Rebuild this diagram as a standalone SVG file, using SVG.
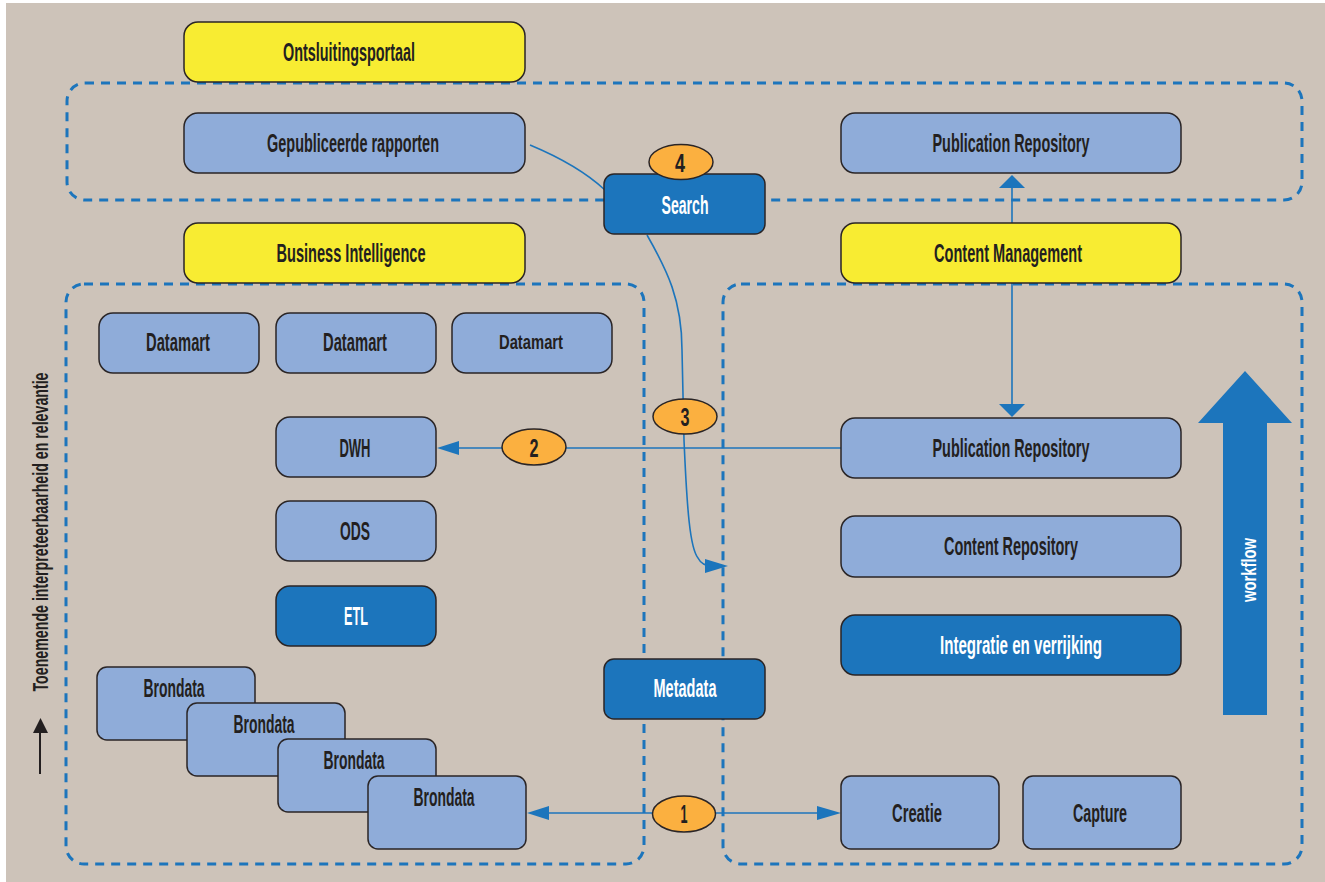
<svg xmlns="http://www.w3.org/2000/svg" width="1325" height="882" viewBox="0 0 1325 882">
<defs>
<style>
.bg{fill:#CDC3B9}
.lb{fill:#8FACD9;stroke:#2A2526;stroke-width:1.5}
.db{fill:#1C75BC;stroke:#2A2526;stroke-width:1.5}
.yb{fill:#F8EC32;stroke:#2A2526;stroke-width:1.5}
.ov{fill:#FBB040;stroke:#2A2526;stroke-width:1.5}
.cont{fill:none;stroke:#1C75BC;stroke-width:3;stroke-dasharray:9 7}
.ln{fill:none;stroke:#1C75BC;stroke-width:1.6}
.ah{fill:#1C75BC}
.t{font-family:"Liberation Sans","DejaVu Sans",sans-serif;font-weight:bold;font-size:25px;fill:#231F20;text-anchor:middle}
.w{fill:#FFFFFF}
</style>
</defs>
<rect x="0" y="0" width="1325" height="882" fill="#FFFFFF"/>
<rect class="bg" x="6" y="3" width="1319" height="879"/>

<g id="containers">
<rect class="cont" x="67" y="83" width="1235" height="117" rx="18"/>
<rect class="cont" x="66" y="284" width="578" height="580" rx="18"/>
<rect class="cont" x="723" y="284" width="579" height="580" rx="18"/>
</g>

<g id="connectors">
<path class="ln" d="M530,145 Q578,165 605,190"/>
<path class="ln" d="M647,235 C667,270 682,300 682,350 L684,440 C687,510 690,548 698,558 Q702,566 712,566"/>
<polygon class="ah" points="705,559 728,566 705,573"/>
<line class="ln" x1="1012" y1="223" x2="1012" y2="186"/>
<polygon class="ah" points="999,188 1025,188 1012,175"/>
<line class="ln" x1="1012" y1="283" x2="1012" y2="406"/>
<polygon class="ah" points="999,404 1025,404 1012,417"/>
<line class="ln" x1="841" y1="448" x2="457" y2="448"/>
<polygon class="ah" points="459,441 437,448 459,455"/>
<line class="ln" x1="547" y1="813" x2="819" y2="813"/>
<polygon class="ah" points="549,806 527,813 549,820"/>
<polygon class="ah" points="817,806 841,813 817,820"/>
</g>

<g id="n-ontsluitingsportaal"><rect class="yb" x="184" y="22" width="341" height="60" rx="14"/><text class="t" x="349" y="61" textLength="132" lengthAdjust="spacingAndGlyphs">Ontsluitingsportaal</text></g>
<g id="n-gepubliceerde"><rect class="lb" x="184" y="113" width="341" height="60" rx="14"/><text class="t" x="353" y="152" textLength="172" lengthAdjust="spacingAndGlyphs">Gepubliceerde rapporten</text></g>
<g id="n-pubrepo-top"><rect class="lb" x="841" y="113" width="340" height="60" rx="14"/><text class="t" x="1011" y="152" textLength="157" lengthAdjust="spacingAndGlyphs">Publication Repository</text></g>
<g id="n-search"><rect class="db" x="604" y="174" width="161" height="60" rx="10"/><text class="t w" x="685" y="214" textLength="47" lengthAdjust="spacingAndGlyphs">Search</text></g>
<g id="n-4"><ellipse class="ov" cx="681" cy="162" rx="32" ry="17.5"/><text class="t" x="680" y="172" textLength="10" lengthAdjust="spacingAndGlyphs">4</text></g>
<g id="n-bi"><rect class="yb" x="184" y="223" width="341" height="60" rx="14"/><text class="t" x="351" y="262" textLength="149" lengthAdjust="spacingAndGlyphs">Business Intelligence</text></g>
<g id="n-cm"><rect class="yb" x="841" y="223" width="340" height="60" rx="14"/><text class="t" x="1008" y="262" textLength="148" lengthAdjust="spacingAndGlyphs">Content Management</text></g>

<g id="n-datamart1"><rect class="lb" x="99" y="313" width="160" height="60" rx="14"/><text class="t" x="178" y="351" textLength="64" lengthAdjust="spacingAndGlyphs">Datamart</text></g>
<g id="n-datamart2"><rect class="lb" x="276" y="313" width="160" height="60" rx="14"/><text class="t" x="355" y="351" textLength="64" lengthAdjust="spacingAndGlyphs">Datamart</text></g>
<g id="n-datamart3"><rect class="lb" x="452" y="313" width="160" height="60" rx="14"/><text class="t" x="531" y="349" style="font-size:20px" textLength="64" lengthAdjust="spacingAndGlyphs">Datamart</text></g>
<g id="n-dwh"><rect class="lb" x="276" y="417" width="160" height="60" rx="14"/><text class="t" x="355" y="457" textLength="31" lengthAdjust="spacingAndGlyphs">DWH</text></g>
<g id="n-ods"><rect class="lb" x="276" y="501" width="160" height="60" rx="14"/><text class="t" x="355" y="540" textLength="30" lengthAdjust="spacingAndGlyphs">ODS</text></g>
<g id="n-etl"><rect class="db" x="276" y="586" width="160" height="60" rx="14"/><text class="t w" x="356" y="625" textLength="24" lengthAdjust="spacingAndGlyphs">ETL</text></g>

<g id="n-brondata1"><rect class="lb" x="97" y="667" width="158" height="73" rx="10"/><text class="t" x="174" y="697" textLength="61" lengthAdjust="spacingAndGlyphs">Brondata</text></g>
<g id="n-brondata2"><rect class="lb" x="187" y="703" width="158" height="73" rx="10"/><text class="t" x="264" y="733" textLength="61" lengthAdjust="spacingAndGlyphs">Brondata</text></g>
<g id="n-brondata3"><rect class="lb" x="278" y="739" width="158" height="73" rx="10"/><text class="t" x="354" y="769" textLength="61" lengthAdjust="spacingAndGlyphs">Brondata</text></g>
<g id="n-brondata4"><rect class="lb" x="368" y="776" width="158" height="73" rx="10"/><text class="t" x="444" y="806" textLength="61" lengthAdjust="spacingAndGlyphs">Brondata</text></g>

<g id="n-2"><ellipse class="ov" cx="534" cy="447" rx="32" ry="18"/><text class="t" x="534" y="457" textLength="9" lengthAdjust="spacingAndGlyphs">2</text></g>
<g id="n-3"><ellipse class="ov" cx="685" cy="416.5" rx="32" ry="17.5"/><text class="t" x="685" y="426" textLength="9" lengthAdjust="spacingAndGlyphs">3</text></g>
<g id="n-metadata"><rect class="db" x="604" y="659" width="161" height="60" rx="10"/><text class="t w" x="685" y="697" textLength="63" lengthAdjust="spacingAndGlyphs">Metadata</text></g>
<g id="n-1"><ellipse class="ov" cx="684" cy="814" rx="31.5" ry="18"/><text class="t" x="684" y="823" textLength="7" lengthAdjust="spacingAndGlyphs">1</text></g>

<g id="n-pubrepo"><rect class="lb" x="841" y="418" width="340" height="60" rx="14"/><text class="t" x="1011" y="457" textLength="157" lengthAdjust="spacingAndGlyphs">Publication Repository</text></g>
<g id="n-contentrepo"><rect class="lb" x="841" y="516" width="340" height="61" rx="14"/><text class="t" x="1011" y="555" textLength="134" lengthAdjust="spacingAndGlyphs">Content Repository</text></g>
<g id="n-integratie"><rect class="db" x="841" y="615" width="340" height="60" rx="14"/><text class="t w" x="1021" y="654" textLength="162" lengthAdjust="spacingAndGlyphs">Integratie en verrijking</text></g>
<g id="n-creatie"><rect class="lb" x="841" y="776" width="158" height="73" rx="10"/><text class="t" x="917" y="822" textLength="50" lengthAdjust="spacingAndGlyphs">Creatie</text></g>
<g id="n-capture"><rect class="lb" x="1023" y="776" width="158" height="73" rx="10"/><text class="t" x="1100" y="822" textLength="54" lengthAdjust="spacingAndGlyphs">Capture</text></g>

<g id="workflow">
<polygon fill="#1C75BC" points="1245,371 1292,423 1267,423 1267,715 1223,715 1223,423 1198,423"/>
<text class="t w" transform="translate(1256,570) rotate(-90)" x="0" y="0" style="font-size:21px" textLength="64" lengthAdjust="spacingAndGlyphs">workflow</text>
</g>

<g id="axis">
<line x1="40" y1="774" x2="40" y2="730" stroke="#231F20" stroke-width="2"/>
<polygon fill="#231F20" points="33,733 48,733 40.5,718"/>
<text class="t" transform="translate(48,532) rotate(-90)" x="0" y="0" style="font-size:22px" textLength="319" lengthAdjust="spacingAndGlyphs">Toenemende interpreteerbaarheid en relevantie</text>
</g>
</svg>
